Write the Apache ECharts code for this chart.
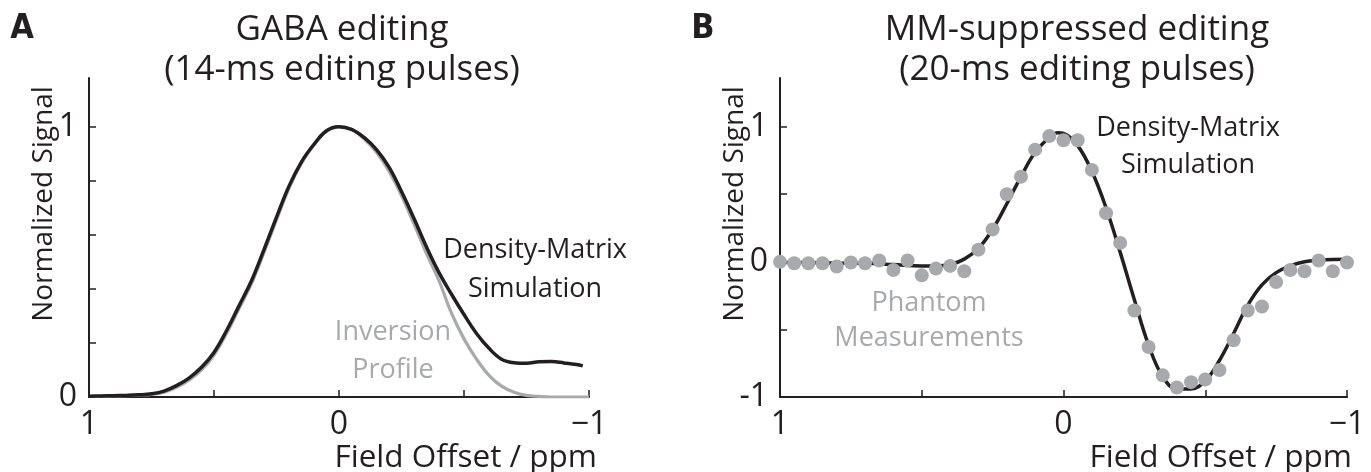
<!DOCTYPE html>
<html>
<head>
<meta charset="utf-8">
<script src="https://cdn.jsdelivr.net/npm/echarts@6/dist/echarts.min.js"></script>
<style>
html,body{margin:0;padding:0;background:#fff;}
#chart{width:1371px;height:472px;}
</style>
</head>
<body>
<div id="chart"></div>
<script>
// ---------- Panel A : GABA editing (14-ms editing pulses) ----------
const xA = [1.00,0.95,0.90,0.85,0.80,0.75,0.70,0.65,0.60,0.55,0.50,0.45,0.40,0.35,0.30,0.25,0.20,0.15,0.10,0.05,0.00,
            -0.05,-0.10,-0.15,-0.20,-0.25,-0.30,-0.35,-0.40,-0.45,-0.50,-0.55,-0.60,-0.65,-0.70,-0.75,-0.80,-0.85,-0.90,-0.95,-0.975];
const densityA = [0.003,0.004,0.005,0.006,0.008,0.012,0.022,0.042,0.070,0.110,0.165,0.245,0.337,0.430,0.545,0.665,0.780,0.870,0.935,0.985,1.000,
                  0.990,0.960,0.915,0.850,0.760,0.660,0.555,0.460,0.380,0.305,0.235,0.180,0.140,0.127,0.125,0.130,0.131,0.126,0.120,0.115];
const xInv = [1.00,0.95,0.90,0.85,0.80,0.75,0.70,0.65,0.60,0.55,0.50,0.45,0.40,0.35,0.30,0.25,0.20,0.15,0.10,0.05,0.00,
              -0.05,-0.10,-0.15,-0.20,-0.25,-0.30,-0.35,-0.40,-0.45,-0.50,-0.55,-0.60,-0.65,-0.70,-0.75,-0.80,-0.85,-0.90,-0.95,-1.00];
const inversionA = [0.002,0.003,0.004,0.005,0.007,0.010,0.018,0.036,0.062,0.100,0.155,0.235,0.327,0.420,0.535,0.655,0.772,0.865,0.932,0.983,1.000,
                    0.990,0.955,0.905,0.835,0.745,0.640,0.530,0.430,0.310,0.215,0.140,0.080,0.040,0.018,0.006,0.002,0.000,0.000,0.000,0.000];

// ---------- Panel B : MM-suppressed editing (20-ms editing pulses) ----------
const xSimB = [1.00,0.90,0.80,0.70,0.60,0.50,0.45,0.40,0.35,0.30,0.25,0.20,0.15,0.10,0.05,0.02,0.00,
               -0.05,-0.10,-0.15,-0.20,-0.25,-0.30,-0.35,-0.40,-0.45,-0.50,-0.55,-0.60,-0.65,-0.70,-0.75,-0.80,-0.85,-0.90,-0.95,-1.00];
const densityB = [-0.005,-0.005,-0.010,-0.010,-0.020,-0.030,-0.030,-0.020,0.020,0.100,0.240,0.430,0.630,0.810,0.920,0.955,0.950,
                  0.860,0.670,0.400,0.070,-0.280,-0.615,-0.850,-0.940,-0.940,-0.880,-0.730,-0.530,-0.320,-0.170,-0.080,-0.030,0.000,0.012,0.018,0.020];
const xMeasB = [1.00,0.95,0.90,0.85,0.80,0.75,0.70,0.65,0.60,0.55,0.50,0.45,0.40,0.35,0.30,0.25,0.20,0.15,0.10,0.05,0.00,
                -0.05,-0.10,-0.15,-0.20,-0.25,-0.30,-0.35,-0.40,-0.45,-0.50,-0.55,-0.60,-0.65,-0.70,-0.75,-0.80,-0.85,-0.90,-0.95,-1.00];
const phantomB = [0.000,-0.010,-0.010,-0.010,-0.035,-0.005,-0.010,0.010,-0.060,0.010,-0.100,-0.050,-0.030,-0.070,0.090,0.240,0.500,0.630,0.830,0.930,0.900,
                  0.900,0.680,0.360,0.140,-0.360,-0.630,-0.840,-0.930,-0.890,-0.870,-0.800,-0.580,-0.360,-0.330,-0.150,-0.060,-0.070,0.010,-0.070,-0.005];

// ---------- tick values / labels ----------
const xTicks = [1, 0.5, 0, -0.5, -1];
const xLabels = [1, 0, -1];
const yTicksA = [0, 0.2, 0.4, 0.6, 0.8, 1];
const yLabelsA = [0, 1];
const yTicksB = [-1, -0.5, 0, 0.5, 1];
const yLabelsB = [-1, 0, 1];

const titlesA = ['GABA editing', '(14-ms editing pulses)'];
const titlesB = ['MM-suppressed editing', '(20-ms editing pulses)'];

const pair = (xs, ys) => xs.map((x, i) => [x, ys[i]]);

const INK = '#231f20';
const GRAY = '#a7a9ac';
const FONT = '"Open Sans", sans-serif';

function xAxisCfg(gi) {
  return {
    type: 'value', gridIndex: gi, min: -1, max: 1, inverse: true,
    axisLine: { show: true, onZero: false, lineStyle: { color: INK, width: 2 } },
    axisTick: { show: true, inside: true, length: 7, lineStyle: { color: INK, width: 1.5 }, customValues: xTicks },
    axisLabel: { show: true, customValues: xLabels, color: INK, fontSize: 32, fontFamily: FONT, margin: 12,
                 formatter: v => v < 0 ? '\u2212' + Math.abs(v) : String(v) },
    splitLine: { show: false }
  };
}
function yAxisCfg(gi, min, max, ticks, labels, minusChar) {
  return {
    type: 'value', gridIndex: gi, min: min, max: max,
    axisLine: { show: true, onZero: false, lineStyle: { color: INK, width: 2 } },
    axisTick: { show: true, inside: true, length: 7, lineStyle: { color: INK, width: 1.5 }, customValues: ticks },
    axisLabel: { show: true, customValues: labels, color: INK, fontSize: 32, fontFamily: FONT, margin: 12,
                 formatter: v => v < 0 ? minusChar + Math.abs(v) : String(v) },
    splitLine: { show: false }
  };
}

function txt(x, y, text, size, color, opts) {
  opts = opts || {};
  return {
    type: 'text', x: x, y: y, rotation: opts.rotation || 0, silent: true,
    style: { text: text, fill: color, font: (opts.weight || 'normal') + ' ' + size + 'px ' + (opts.family || FONT),
             textAlign: opts.align || 'center', textVerticalAlign: 'middle' }
  };
}

const chart = echarts.init(document.getElementById('chart'), null, { renderer: 'canvas' });
chart.setOption({
  backgroundColor: '#ffffff',
  animation: false,
  grid: [
    { left: 89, top: 78, width: 500, height: 319 },
    { left: 780, top: 78, width: 567, height: 319 }
  ],
  xAxis: [xAxisCfg(0), xAxisCfg(1)],
  yAxis: [
    yAxisCfg(0, 0, 1.18, yTicksA, yLabelsA, '-'),
    yAxisCfg(1, -1, 1.36, yTicksB, yLabelsB, '-')
  ],
  series: [
    { name: 'Inversion Profile', type: 'line', xAxisIndex: 0, yAxisIndex: 0, data: pair(xInv, inversionA),
      smooth: 0.4, showSymbol: false, lineStyle: { color: GRAY, width: 3.2 }, z: 2 },
    { name: 'Density-Matrix Simulation A', type: 'line', xAxisIndex: 0, yAxisIndex: 0, data: pair(xA, densityA),
      smooth: 0.4, showSymbol: false, lineStyle: { color: INK, width: 3.5 }, z: 3 },
    { name: 'Density-Matrix Simulation B', type: 'line', xAxisIndex: 1, yAxisIndex: 1, data: pair(xSimB, densityB),
      smooth: 0.4, showSymbol: false, lineStyle: { color: INK, width: 3.5 }, z: 2 },
    { name: 'Phantom Measurements', type: 'scatter', xAxisIndex: 1, yAxisIndex: 1, data: pair(xMeasB, phantomB),
      symbol: 'circle', symbolSize: 14, itemStyle: { color: GRAY, opacity: 1 }, z: 3 }
  ],
  graphic: [
    txt(22, 29, 'A', 34, INK, { weight: 'bold', family: '"Liberation Sans Narrow", "DejaVu Sans Condensed", sans-serif' }),
    txt(703, 29, 'B', 34, INK, { weight: 'bold', family: '"Liberation Sans Narrow", "DejaVu Sans Condensed", sans-serif' }),
    txt(342, 30, titlesA[0], 35, INK),
    txt(342, 70, titlesA[1], 35, INK),
    txt(1077, 30, titlesB[0], 35, INK),
    txt(1077, 70, titlesB[1], 35, INK),
    txt(44, 204, 'Normalized Signal', 28, INK, { rotation: Math.PI / 2 }),
    txt(735, 204, 'Normalized Signal', 28, INK, { rotation: Math.PI / 2 }),
    txt(597, 458, 'Field Offset / ppm', 31.5, INK, { align: 'right' }),
    txt(1352, 458, 'Field Offset / ppm', 31.5, INK, { align: 'right' }),
    txt(535, 250, 'Density-Matrix', 27, INK),
    txt(535, 289, 'Simulation', 27, INK),
    txt(393, 332, 'Inversion', 27, GRAY),
    txt(393, 370, 'Profile', 27, GRAY),
    txt(1188, 128, 'Density-Matrix', 27, INK),
    txt(1188, 165, 'Simulation', 27, INK),
    txt(929, 303, 'Phantom', 27, GRAY),
    txt(929, 338, 'Measurements', 27, GRAY)
  ]
});
</script>
</body>
</html>
